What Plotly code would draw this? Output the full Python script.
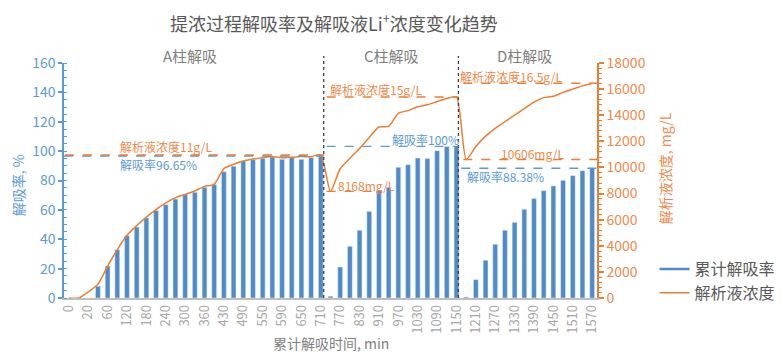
import plotly.graph_objects as go

# ---------------- data ----------------
time_min = [0, 10, 20, 40, 60, 90, 120, 150, 180, 210, 240, 270, 300, 330, 360, 390, 430, 460, 490, 520,
            550, 570, 590, 620, 650, 680, 710,
            740, 770, 800, 830, 870, 910, 940, 970, 1000, 1030, 1060, 1090, 1120, 1150,
            1180, 1210, 1240, 1270, 1300, 1330, 1360, 1390, 1420, 1450, 1480, 1510, 1540, 1570]

rate_A = [None, None, None, 8.0, 21.8, 32.9, 42.5, 48.3, 54.5, 59.5, 63.6, 67.4, 70.4, 72.0, 75.4, 77.2,
          86.0, 89.7, 93.3, 94.2, 94.9, 96.0, 94.4, 95.6, 94.4, 95.6, 96.65]
rate_C = [1.2, 21.1, 35.2, 46.1, 59.0, 73.1, 75.4, 89.0, 90.8, 95.3, 94.9, 100.3, 103.2, 103.2]
rate_D = [0.7, 12.5, 25.7, 36.6, 46.1, 51.5, 60.4, 67.7, 73.1, 76.3, 80.1, 83.3, 86.7, 88.38]

conc_A = [0, 0, 460, 1050, 2450, 3700, 4800, 5540, 6200, 6770, 7280, 7690, 7940, 8200, 8550, 8710,
          9910, 10240, 10490, 10650, 10750, 10830, 10750, 10780, 10830, 10830, 10950]
conc_C = [8168, 9900, 10700, 11450, 12300, 13100, 13150, 14150, 14350, 14650, 14800, 15050, 15280, 15400]
conc_D = [10606, 11600, 12400, 13000, 13500, 14000, 14500, 15000, 15350, 15450, 15750, 16000, 16250, 16450]

shown_ticks = [0, 20, 60, 120, 180, 240, 300, 360, 430, 490, 550, 590, 650, 710, 770, 830, 910, 970,
               1030, 1090, 1150, 1210, 1270, 1330, 1390, 1450, 1510, 1570]

sections = ["A柱解吸", "C柱解吸", "D柱解吸"]
rate_labels = ["解吸率96.65%", "解吸率100%", "解吸率88.38%"]
conc_max_labels = ["解析液浓度11g/L", "解析液浓度15g/L", "解析液浓度16.5g/L"]
conc_min_labels = ["8168mg/L", "10606mg/L"]

# ---------------- derived ----------------
cats = [str(t) for t in time_min]
rate = rate_A + rate_C + rate_D
conc = conc_A + conc_C + conc_D
nA, nC = len(rate_A), len(rate_C)
iA_end = nA - 1
iC_start, iC_end = nA, nA + nC - 1
iD_start, iD_end = nA + nC, len(cats) - 1

BLUE = "#4f8bc9"
BLUE_T = "#5b9bd5"
ORANGE = "#ed7d31"
ORANGE_T = "#f0894a"
GRAY = "#595959"
FONT = "Noto Sans CJK SC"

fig = go.Figure()
fig.add_trace(go.Bar(x=cats, y=rate, marker_color=BLUE, showlegend=False, name="累计解吸率"))
fig.add_trace(go.Scatter(x=[None], y=[None], mode="lines", line=dict(color=BLUE, width=2.5),
                         name="累计解吸率"))
fig.add_trace(go.Scatter(x=cats, y=conc, yaxis="y2", mode="lines", name="解析液浓度",
                         line=dict(color=ORANGE, width=1.5, shape="spline", smoothing=0.6)))

# separators
sep1 = iA_end + 0.3
sep2 = iC_end + 0.2
for xs in (sep1, sep2):
    fig.add_shape(type="line", xref="x", yref="paper", x0=xs, x1=xs, y0=0, y1=1.03,
                  line=dict(color="#404040", width=1.3, dash="dot"))

dash_b = dict(color=BLUE_T, width=1.4, dash="dash")
dash_o = dict(color=ORANGE, width=1.4, dash="dash")
# A
fig.add_shape(type="line", xref="x", yref="y", x0=-0.5, x1=sep1, y0=rate_A[-1], y1=rate_A[-1], line=dash_b)
fig.add_shape(type="line", xref="x", yref="y2", x0=-0.4, x1=sep1, y0=conc_A[-1], y1=conc_A[-1], line=dash_o)
# C
fig.add_shape(type="line", xref="x", yref="y", x0=sep1 + 0.3, x1=sep2, y0=max(rate_C), y1=max(rate_C), line=dash_b)
fig.add_shape(type="line", xref="x", yref="y2", x0=sep1 + 0.3, x1=sep2, y0=max(conc_C), y1=max(conc_C), line=dash_o)
fig.add_shape(type="line", xref="x", yref="y2", x0=sep1 + 0.3, x1=iC_start + 4.5, y0=conc_C[0], y1=conc_C[0], line=dash_o)
# D
fig.add_shape(type="line", xref="x", yref="y", x0=sep2 + 0.3, x1=54.5, y0=rate_D[-1], y1=rate_D[-1], line=dash_b)
fig.add_shape(type="line", xref="x", yref="y2", x0=sep2 + 0.5, x1=54.5, y0=max(conc_D), y1=max(conc_D), line=dash_o)
fig.add_shape(type="line", xref="x", yref="y2", x0=sep2 + 0.5, x1=54.5, y0=conc_D[0], y1=conc_D[0], line=dash_o)

ann = []
def A(x, y, text, color, size=12, xref="x", yref="y", **kw):
    ann.append(dict(x=x, y=y, xref=xref, yref=yref, text=text, showarrow=False,
                    xanchor="center", yanchor="middle",
                    font=dict(family=FONT, size=size, color=color), **kw))

A(10.0, 103.3, conc_max_labels[0], ORANGE_T)
A(9.2, 91.0, rate_labels[0], BLUE_T)
A(31.7, 142.1, conc_max_labels[1], ORANGE_T)
A(36.8, 108.2, rate_labels[1], BLUE_T)
A(30.7, 76.7, conc_min_labels[0], ORANGE_T)
A(45.6, 150.9, conc_max_labels[2], ORANGE_T)
A(47.9, 98.7, conc_min_labels[1], ORANGE_T)
A(45.1, 82.4, rate_labels[2], BLUE_T)

for xc, s in zip((12.5, 33.3, 47.0), sections):
    A(xc, 1.03, s, "#7f7f7f", size=15, yref="paper")

A(0.5066, 1.173, "提浓过程解吸率及解吸液Li<sup>+</sup>浓度变化趋势", GRAY, size=18, xref="paper", yref="paper")
A(0.5009, -0.192, "累计解吸时间, min", "#7f7f7f", size=14, xref="paper", yref="paper")
A(-0.0863, 0.48, "解吸率, %", BLUE_T, size=14, xref="paper", yref="paper", textangle=-90)
A(1.1276, 0.552, "解析液浓度, mg/L", ORANGE_T, size=14, xref="paper", yref="paper", textangle=-90)

fig.update_layout(
    width=783, height=360,
    margin=dict(l=64, r=186, t=63, b=62, autoexpand=False),
    paper_bgcolor="white", plot_bgcolor="white",
    font=dict(family=FONT),
    bargap=0.5,
    showlegend=True,
    legend=dict(xref="container", yref="container", x=0.836, y=0.3, xanchor="left", yanchor="top",
                font=dict(family=FONT, size=16, color=GRAY),
                bgcolor="rgba(0,0,0,0)", tracegroupgap=6),
    annotations=ann,
    xaxis=dict(type="category", range=[-0.5, len(cats) - 0.5], automargin=False,
               tickmode="array", tickvals=[str(t) for t in shown_ticks],
               ticktext=[str(t) for t in shown_ticks], tickangle=-90,
               tickfont=dict(family=FONT, size=13, color="#a6a6a6"),
               showline=True, linecolor="#bfbfbf", linewidth=1.5, ticks="",
               showgrid=False, zeroline=False),
    yaxis=dict(range=[0, 160], dtick=20, automargin=False,
               tickfont=dict(family=FONT, size=14, color=BLUE_T),
               showline=True, linecolor=BLUE_T, linewidth=1.5, ticks="outside", ticklen=4,
               tickcolor=BLUE_T, tickwidth=1.5,
               minor=dict(dtick=5, ticks="inside", ticklen=3, tickcolor=BLUE_T, tickwidth=1),
               showgrid=False, zeroline=False),
    yaxis2=dict(range=[0, 18000], dtick=2000, overlaying="y", side="right", automargin=False,
                tickformat="d",
                tickfont=dict(family=FONT, size=14, color=ORANGE_T),
                showline=True, linecolor=ORANGE, linewidth=1.5, ticks="outside", ticklen=5,
                tickcolor=ORANGE, tickwidth=1.5,
                minor=dict(dtick=400, ticks="outside", ticklen=3, tickcolor=ORANGE, tickwidth=1),
                showgrid=False, zeroline=False),
    yaxis3=dict(range=[0, 160], dtick=20, overlaying="y", side="left", anchor="x", automargin=False,
                showticklabels=False, ticks="inside", ticklen=7, tickcolor=BLUE_T, tickwidth=1.5,
                showline=False, showgrid=False, zeroline=False),
    yaxis4=dict(range=[0, 18000], dtick=2000, overlaying="y", side="right", anchor="x", automargin=False,
                showticklabels=False, ticks="inside", ticklen=4, tickcolor=ORANGE, tickwidth=1.5,
                showline=False, showgrid=False, zeroline=False),
)

fig.write_html("out.html", config={"displayModeBar": False},
               post_script="document.body.style.margin='0';document.body.style.padding='0';")
